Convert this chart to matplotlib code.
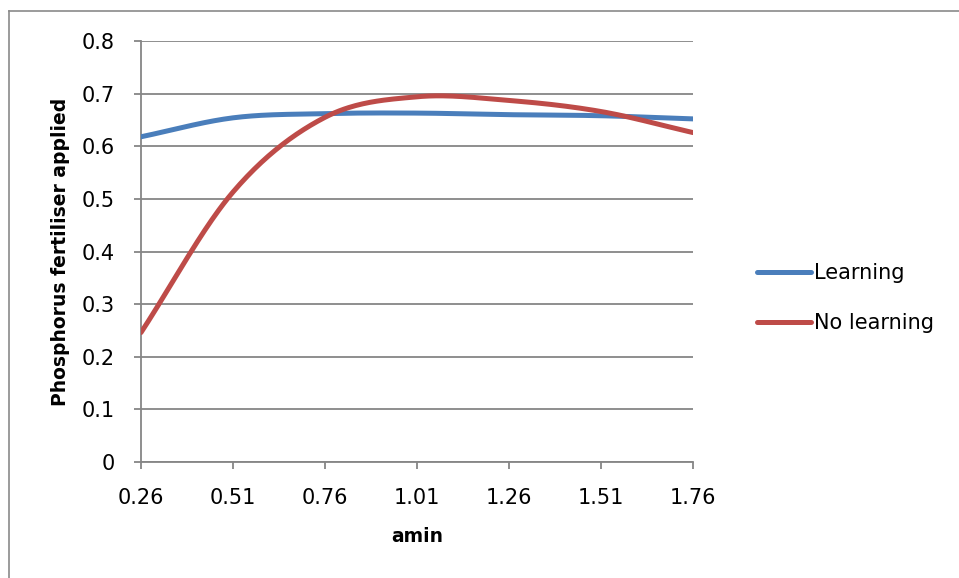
import numpy as np
import matplotlib
matplotlib.use("Agg")
import matplotlib.pyplot as plt
from matplotlib.lines import Line2D

plt.rcParams['font.family'] = ['DejaVu Sans']

amin_labels = ["0.26", "0.51", "0.76", "1.01", "1.26", "1.51", "1.76"]
learning = [0.618, 0.654, 0.662, 0.663, 0.660, 0.658, 0.652]
no_learning = [0.246, 0.513, 0.655, 0.694, 0.687, 0.666, 0.626]
y_ticks = [0, 0.1, 0.2, 0.3, 0.4, 0.5, 0.6, 0.7, 0.8]
y_tick_labels = ["0", "0.1", "0.2", "0.3", "0.4", "0.5", "0.6", "0.7", "0.8"]

BLUE = "#4A7EBB"
RED = "#BE4B48"
GRID = "#868686"


def smooth(xs, ys, n=40):
    """Catmull-Rom Bezier smoothing; end tangents use reflected phantom points."""
    xs = np.asarray(xs, float)
    ys = np.asarray(ys, float)
    px = np.concatenate([[2 * xs[0] - xs[1]], xs, [2 * xs[-1] - xs[-2]]])
    py = np.concatenate([[2 * ys[0] - ys[1]], ys, [2 * ys[-1] - ys[-2]]])
    outx, outy = [], []
    t = np.linspace(0, 1, n)
    for i in range(1, len(px) - 2):
        p0 = np.array([px[i], py[i]])
        p3 = np.array([px[i + 1], py[i + 1]])
        c1 = p0 + (np.array([px[i + 1], py[i + 1]]) - np.array([px[i - 1], py[i - 1]])) / 6
        c2 = p3 - (np.array([px[i + 2], py[i + 2]]) - np.array([px[i], py[i]])) / 6
        b = ((1 - t) ** 3)[:, None] * p0 + (3 * (1 - t) ** 2 * t)[:, None] * c1 \
            + (3 * (1 - t) * t ** 2)[:, None] * c2 + (t ** 3)[:, None] * p3
        outx.extend(b[:, 0])
        outy.extend(b[:, 1])
    return np.array(outx), np.array(outy)


fig = plt.figure(figsize=(9.59, 5.78), dpi=100)
ax = fig.add_axes([141 / 959, 1 - 462 / 578, (693 - 141) / 959, (462 - 41) / 578])

pos = np.arange(len(amin_labels))
for vals, color, name in [(learning, BLUE, "Learning"), (no_learning, RED, "No learning")]:
    sx, sy = smooth(pos, vals)
    ax.plot(sx, sy, color=color, lw=3.6, solid_capstyle="round", label=name, zorder=3)

ax.set_xlim(0, len(amin_labels) - 1)
ax.set_ylim(0, 0.8)
ax.set_xticks(pos)
ax.set_xticklabels(amin_labels)
ax.set_yticks(y_ticks)
ax.set_yticklabels(y_tick_labels)

ax.yaxis.grid(True, color=GRID, lw=1.3)
ax.set_axisbelow(True)
for side in ["top", "right"]:
    ax.spines[side].set_visible(False)
for side in ["left", "bottom"]:
    ax.spines[side].set_color(GRID)
    ax.spines[side].set_linewidth(1.3)
ax.tick_params(axis="both", colors=GRID, length=5, width=1.3, direction="out",
               labelcolor="black", labelsize=15)
ax.tick_params(axis="y", pad=14)
ax.tick_params(axis="x", pad=14)

ax.set_xlabel("amin", fontsize=13.5, fontweight="bold")
ax.set_ylabel("Phosphorus fertiliser applied", fontsize=13.5, fontweight="bold")
ax.xaxis.set_label_coords(0.5, (462 - 537) / 421)
ax.yaxis.set_label_coords((60 - 141) / 552, 0.5)
ax.xaxis.label.set_va("center")
ax.yaxis.label.set_va("center")

fig.legend(handles=[Line2D([], [], color=BLUE, lw=3.6, solid_capstyle="round"),
                    Line2D([], [], color=RED, lw=3.6, solid_capstyle="round")],
           labels=["Learning", "No learning"],
           loc="center left", bbox_to_anchor=(757 / 959, 1 - 298 / 578),
           frameon=False, fontsize=15, handlelength=2.6, handletextpad=0.15,
           labelspacing=1.45, borderaxespad=0, borderpad=0)

# chart-area border (left and top edges)
fig.add_artist(Line2D([8.5 / 959, 8.5 / 959], [0, 1 - 10.5 / 578], color="#8A8A8A", lw=1.2,
                      transform=fig.transFigure))
fig.add_artist(Line2D([8.5 / 959, 1.01], [1 - 10.5 / 578, 1 - 10.5 / 578], color="#8A8A8A", lw=1.2,
                      transform=fig.transFigure))

fig.savefig("out.png", dpi=100)
